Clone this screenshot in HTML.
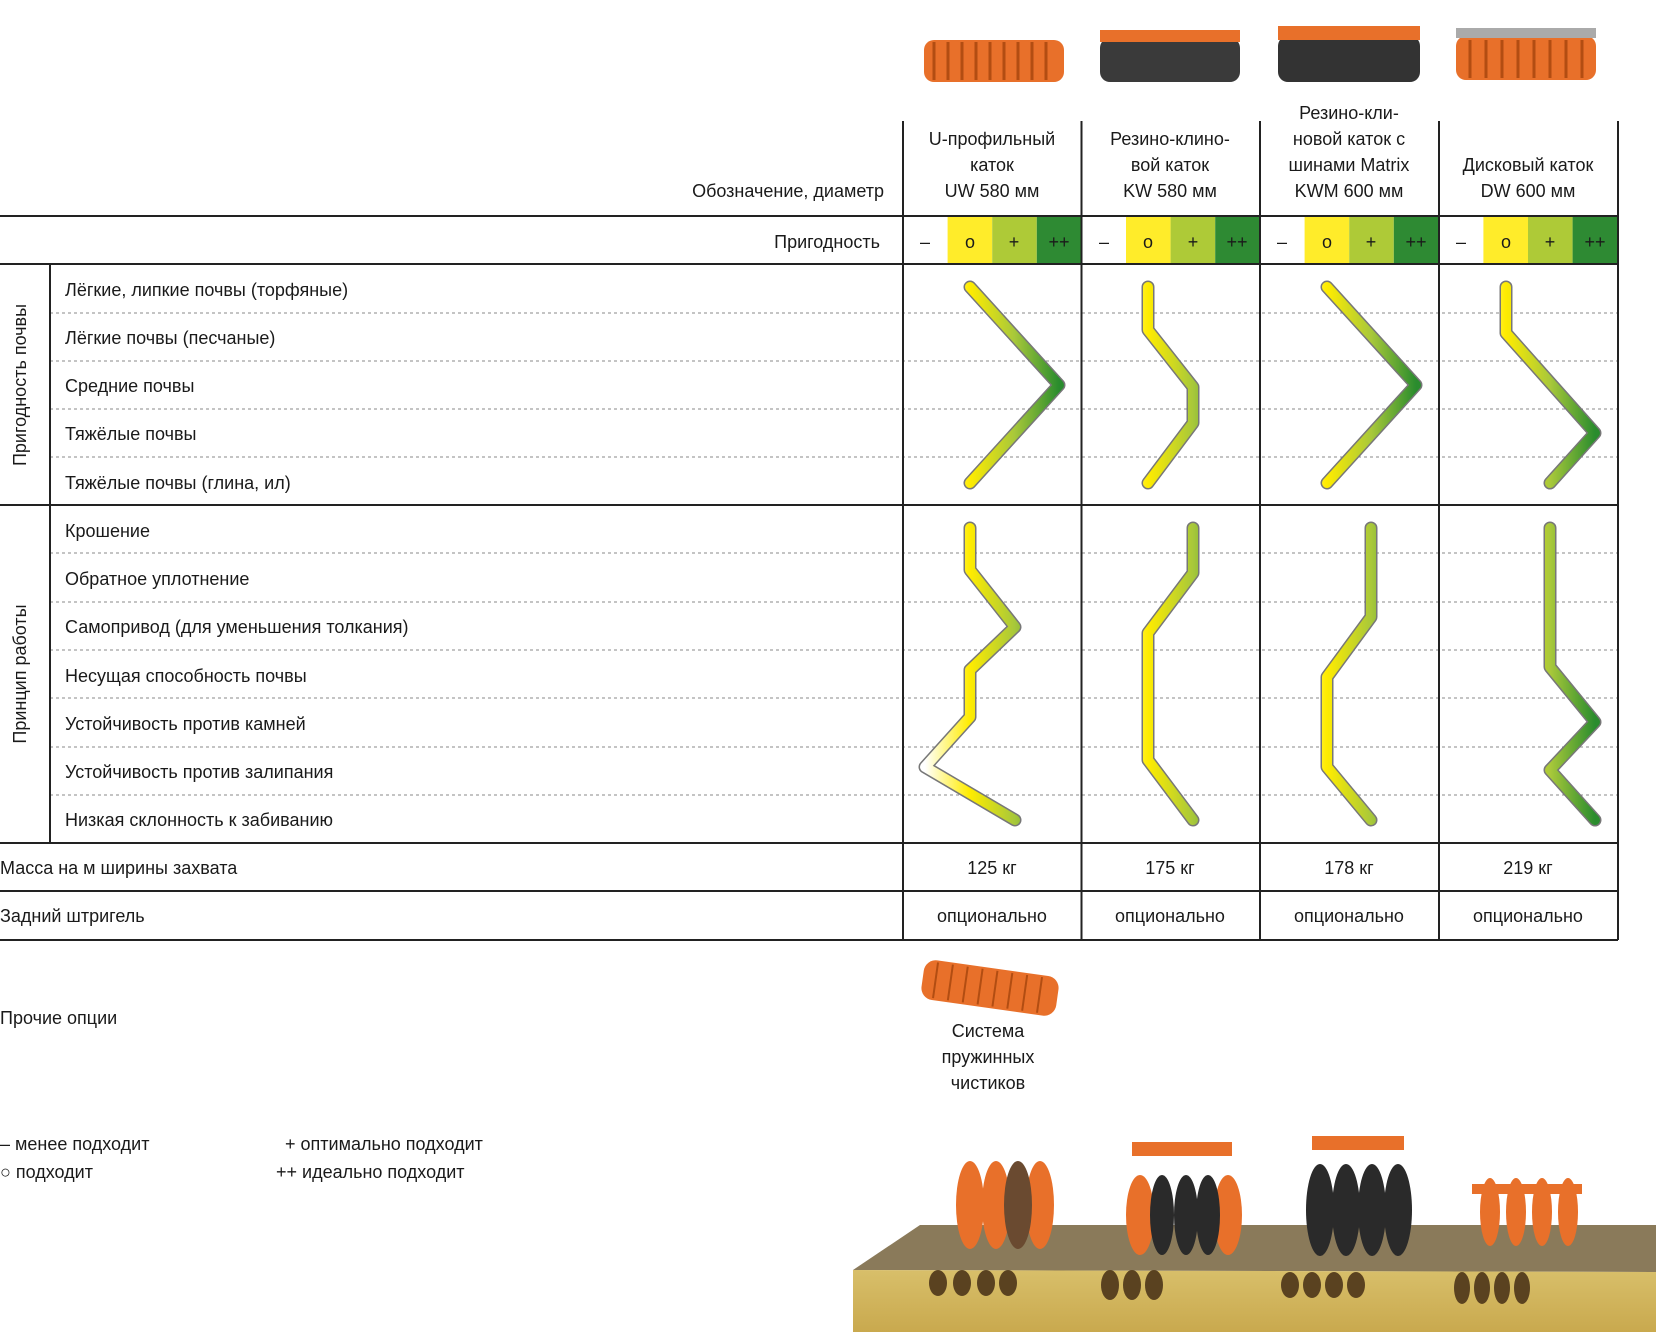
<!DOCTYPE html>
<html><head><meta charset="utf-8"><style>
html,body{margin:0;padding:0;background:#fff;}
svg{display:block;}
text{font-family:"Liberation Sans",sans-serif;font-size:18px;fill:#1a1a1a;}
</style></head><body>
<svg width="1656" height="1332" viewBox="0 0 1656 1332" xmlns="http://www.w3.org/2000/svg">
<defs>
<linearGradient id="g0" gradientUnits="userSpaceOnUse" x1="925" x2="1059" y1="0" y2="0"><stop offset="0" stop-color="#fff"/><stop offset="0.333" stop-color="#ffec00"/><stop offset="0.667" stop-color="#a8c83a"/><stop offset="1" stop-color="#2a8c2e"/></linearGradient>
<linearGradient id="g1" gradientUnits="userSpaceOnUse" x1="1103.5" x2="1237.5" y1="0" y2="0"><stop offset="0" stop-color="#fff"/><stop offset="0.333" stop-color="#ffec00"/><stop offset="0.667" stop-color="#a8c83a"/><stop offset="1" stop-color="#2a8c2e"/></linearGradient>
<linearGradient id="g2" gradientUnits="userSpaceOnUse" x1="1282" x2="1416" y1="0" y2="0"><stop offset="0" stop-color="#fff"/><stop offset="0.333" stop-color="#ffec00"/><stop offset="0.667" stop-color="#a8c83a"/><stop offset="1" stop-color="#2a8c2e"/></linearGradient>
<linearGradient id="g3" gradientUnits="userSpaceOnUse" x1="1461" x2="1595" y1="0" y2="0"><stop offset="0" stop-color="#fff"/><stop offset="0.333" stop-color="#ffec00"/><stop offset="0.667" stop-color="#a8c83a"/><stop offset="1" stop-color="#2a8c2e"/></linearGradient>
<linearGradient id="soil" x1="0" y1="0" x2="0" y2="1"><stop offset="0" stop-color="#d8bf6a"/><stop offset="1" stop-color="#c9a94e"/></linearGradient>
</defs>

<!-- top roller images -->
<g>
<rect x="924" y="40" width="140" height="42" rx="10" fill="#e8702a"/>
<rect x="1100" y="38" width="140" height="44" rx="10" fill="#3a3a3a"/>
<rect x="1100" y="30" width="140" height="12" fill="#e8702a"/>
<rect x="1278" y="36" width="142" height="46" rx="10" fill="#333"/>
<rect x="1278" y="26" width="142" height="14" fill="#e8702a"/>
<rect x="1456" y="36" width="140" height="44" rx="10" fill="#e8702a"/>
<rect x="1456" y="28" width="140" height="10" fill="#aaa"/>
<g stroke="#b24d12" stroke-width="3">
<line x1="934" y1="42" x2="934" y2="80"/><line x1="948" y1="42" x2="948" y2="80"/><line x1="962" y1="42" x2="962" y2="80"/><line x1="976" y1="42" x2="976" y2="80"/><line x1="990" y1="42" x2="990" y2="80"/><line x1="1004" y1="42" x2="1004" y2="80"/><line x1="1018" y1="42" x2="1018" y2="80"/><line x1="1032" y1="42" x2="1032" y2="80"/><line x1="1046" y1="42" x2="1046" y2="80"/>
<line x1="1470" y1="40" x2="1470" y2="78"/><line x1="1486" y1="40" x2="1486" y2="78"/><line x1="1502" y1="40" x2="1502" y2="78"/><line x1="1518" y1="40" x2="1518" y2="78"/><line x1="1534" y1="40" x2="1534" y2="78"/><line x1="1550" y1="40" x2="1550" y2="78"/><line x1="1566" y1="40" x2="1566" y2="78"/><line x1="1582" y1="40" x2="1582" y2="78"/>
</g>
</g>

<!-- header text -->
<g text-anchor="middle">
<text x="992" y="145">U-профильный</text><text x="992" y="171">каток</text><text x="992" y="197">UW 580 мм</text>
<text x="1170" y="145">Резино-клино-</text><text x="1170" y="171">вой каток</text><text x="1170" y="197">KW 580 мм</text>
<text x="1349" y="119">Резино-кли-</text><text x="1349" y="145">новой каток с</text><text x="1349" y="171">шинами Matrix</text><text x="1349" y="197">KWM 600 мм</text>
<text x="1528" y="171">Дисковый каток</text><text x="1528" y="197">DW 600 мм</text>
</g>
<text x="884" y="197" text-anchor="end">Обозначение, диаметр</text>

<!-- suitability cells -->
<g>
<rect x="947.6" y="216" width="44.6" height="48" fill="#ffec2a"/><rect x="992.2" y="216" width="44.6" height="48" fill="#aeca37"/><rect x="1036.8" y="216" width="44.6" height="48" fill="#2e8a33"/>
<rect x="1126" y="216" width="44.6" height="48" fill="#ffec2a"/><rect x="1170.6" y="216" width="44.6" height="48" fill="#aeca37"/><rect x="1215.2" y="216" width="44.6" height="48" fill="#2e8a33"/>
<rect x="1304.6" y="216" width="44.6" height="48" fill="#ffec2a"/><rect x="1349.2" y="216" width="44.6" height="48" fill="#aeca37"/><rect x="1393.8" y="216" width="44.6" height="48" fill="#2e8a33"/>
<rect x="1483.4" y="216" width="44.6" height="48" fill="#ffec2a"/><rect x="1528" y="216" width="44.6" height="48" fill="#aeca37"/><rect x="1572.6" y="216" width="45.4" height="48" fill="#2e8a33"/>
</g>
<g text-anchor="middle" style="font-size:19px">
<text x="925" y="248">–</text><text x="970" y="248">o</text><text x="1014" y="248">+</text><text x="1059" y="248">++</text>
<text x="1104" y="248">–</text><text x="1148" y="248">o</text><text x="1193" y="248">+</text><text x="1237" y="248">++</text>
<text x="1282" y="248">–</text><text x="1327" y="248">o</text><text x="1371" y="248">+</text><text x="1416" y="248">++</text>
<text x="1461" y="248">–</text><text x="1506" y="248">o</text><text x="1550" y="248">+</text><text x="1595" y="248">++</text>
</g>
<text x="880" y="248" text-anchor="end">Пригодность</text>

<!-- dashed lines -->
<g stroke="#888" stroke-width="1" stroke-dasharray="3,3">
<line x1="50" y1="313" x2="1618" y2="313"/><line x1="50" y1="361" x2="1618" y2="361"/><line x1="50" y1="409" x2="1618" y2="409"/><line x1="50" y1="457" x2="1618" y2="457"/>
<line x1="50" y1="553" x2="1618" y2="553"/><line x1="50" y1="602" x2="1618" y2="602"/><line x1="50" y1="650" x2="1618" y2="650"/><line x1="50" y1="698" x2="1618" y2="698"/><line x1="50" y1="747" x2="1618" y2="747"/><line x1="50" y1="795" x2="1618" y2="795"/>
</g>

<!-- solid lines -->
<g stroke="#222" stroke-width="2">
<line x1="0" y1="216" x2="1618" y2="216"/><line x1="0" y1="264" x2="1618" y2="264"/><line x1="0" y1="505" x2="1618" y2="505"/><line x1="0" y1="843" x2="1618" y2="843"/><line x1="0" y1="891" x2="1618" y2="891"/><line x1="0" y1="940" x2="1618" y2="940"/>
<line x1="903" y1="121" x2="903" y2="940"/><line x1="1081.5" y1="121" x2="1081.5" y2="940"/><line x1="1260" y1="121" x2="1260" y2="940"/><line x1="1439" y1="121" x2="1439" y2="940"/><line x1="1618" y1="121" x2="1618" y2="940"/>
<line x1="50" y1="264" x2="50" y2="843"/>
</g>

<!-- row labels -->
<g>
<text x="65" y="296">Лёгкие, липкие почвы (торфяные)</text>
<text x="65" y="344">Лёгкие почвы (песчаные)</text>
<text x="65" y="392">Средние почвы</text>
<text x="65" y="440">Тяжёлые почвы</text>
<text x="65" y="489">Тяжёлые почвы (глина, ил)</text>
<text x="65" y="537">Крошение</text>
<text x="65" y="585">Обратное уплотнение</text>
<text x="65" y="633">Самопривод (для уменьшения толкания)</text>
<text x="65" y="682">Несущая способность почвы</text>
<text x="65" y="730">Устойчивость против камней</text>
<text x="65" y="778">Устойчивость против залипания</text>
<text x="65" y="826">Низкая склонность к забиванию</text>
<text transform="translate(26,385) rotate(-90)" text-anchor="middle">Пригодность почвы</text>
<text transform="translate(26,674) rotate(-90)" text-anchor="middle">Принцип работы</text>
<text x="0" y="874">Масса на м ширины захвата</text>
<text x="0" y="922">Задний штригель</text>
</g>
<g text-anchor="middle">
<text x="992" y="874">125 кг</text><text x="1170" y="874">175 кг</text><text x="1349" y="874">178 кг</text><text x="1528" y="874">219 кг</text>
<text x="992" y="922">опционально</text><text x="1170" y="922">опционально</text><text x="1349" y="922">опционально</text><text x="1528" y="922">опционально</text>
</g>

<!-- curves -->
<g fill="none" stroke-linecap="round" stroke-linejoin="round">
<g stroke="#777" stroke-width="13">
<polyline points="970,287 1059,385 970,483"/>
<polyline points="1148,287 1148,330 1193,387 1193,423 1148,483"/>
<polyline points="1327,287 1416,385 1327,483"/>
<polyline points="1506,287 1506,333 1595,433 1550,483"/>
<polyline points="970,528 970,570 1015,627 970,670 970,717 925,767 1015,820"/>
<polyline points="1193,528 1193,573 1148,633 1148,760 1193,820"/>
<polyline points="1371,528 1371,617 1327,677 1327,767 1371,820"/>
<polyline points="1550,528 1550,667 1595,722 1550,770 1595,820"/>
</g>
<g stroke-width="10">
<polyline stroke="url(#g0)" points="970,287 1059,385 970,483"/>
<polyline stroke="url(#g1)" points="1148,287 1148,330 1193,387 1193,423 1148,483"/>
<polyline stroke="url(#g2)" points="1327,287 1416,385 1327,483"/>
<polyline stroke="url(#g3)" points="1506,287 1506,333 1595,433 1550,483"/>
<polyline stroke="url(#g0)" points="970,528 970,570 1015,627 970,670 970,717 925,767 1015,820"/>
<polyline stroke="url(#g1)" points="1193,528 1193,573 1148,633 1148,760 1193,820"/>
<polyline stroke="url(#g2)" points="1371,528 1371,617 1327,677 1327,767 1371,820"/>
<polyline stroke="url(#g3)" points="1550,528 1550,667 1595,722 1550,770 1595,820"/>
</g>
</g>

<!-- other options -->
<text x="0" y="1024">Прочие опции</text>
<rect x="922" y="968" width="136" height="40" rx="12" fill="#e8702a" transform="rotate(8 990 988)"/>
<g stroke="#b24d12" stroke-width="2" transform="rotate(8 990 988)"><line x1="935" y1="970" x2="935" y2="1006"/><line x1="950" y1="970" x2="950" y2="1006"/><line x1="965" y1="970" x2="965" y2="1006"/><line x1="980" y1="970" x2="980" y2="1006"/><line x1="995" y1="970" x2="995" y2="1006"/><line x1="1010" y1="970" x2="1010" y2="1006"/><line x1="1025" y1="970" x2="1025" y2="1006"/><line x1="1040" y1="970" x2="1040" y2="1006"/></g>
<g text-anchor="middle"><text x="988" y="1037">Система</text><text x="988" y="1063">пружинных</text><text x="988" y="1089">чистиков</text></g>

<!-- legend -->
<text x="0" y="1150">– менее подходит</text>
<text x="0" y="1178">○ подходит</text>
<text x="285" y="1150">+ оптимально подходит</text>
<text x="276" y="1178">++ идеально подходит</text>

<!-- bottom illustration -->
<polygon points="853,1270 920,1225 1656,1225 1656,1272" fill="#8a7a5a"/>
<polygon points="853,1270 1656,1272 1656,1332 853,1332" fill="url(#soil)"/>
<g fill="#5a4220">
<ellipse cx="938" cy="1283" rx="9" ry="13"/><ellipse cx="962" cy="1283" rx="9" ry="13"/><ellipse cx="986" cy="1283" rx="9" ry="13"/><ellipse cx="1008" cy="1283" rx="9" ry="13"/>
<ellipse cx="1110" cy="1285" rx="9" ry="15"/><ellipse cx="1132" cy="1285" rx="9" ry="15"/><ellipse cx="1154" cy="1285" rx="9" ry="15"/>
<ellipse cx="1290" cy="1285" rx="9" ry="13"/><ellipse cx="1312" cy="1285" rx="9" ry="13"/><ellipse cx="1334" cy="1285" rx="9" ry="13"/><ellipse cx="1356" cy="1285" rx="9" ry="13"/>
<ellipse cx="1462" cy="1288" rx="8" ry="16"/><ellipse cx="1482" cy="1288" rx="8" ry="16"/><ellipse cx="1502" cy="1288" rx="8" ry="16"/><ellipse cx="1522" cy="1288" rx="8" ry="16"/>
</g>
<g fill="#e8702a">
<ellipse cx="970" cy="1205" rx="14" ry="44"/><ellipse cx="996" cy="1205" rx="14" ry="44"/><ellipse cx="1040" cy="1205" rx="14" ry="44"/>
<rect x="1132" y="1142" width="100" height="14"/>
<ellipse cx="1140" cy="1215" rx="14" ry="40"/><ellipse cx="1228" cy="1215" rx="14" ry="40"/>
<rect x="1312" y="1136" width="92" height="14"/>
<rect x="1472" y="1184" width="110" height="10"/>
<ellipse cx="1490" cy="1212" rx="10" ry="34"/><ellipse cx="1516" cy="1212" rx="10" ry="34"/><ellipse cx="1542" cy="1212" rx="10" ry="34"/><ellipse cx="1568" cy="1212" rx="10" ry="34"/>
</g>
<ellipse cx="1018" cy="1205" rx="14" ry="44" fill="#6a4a30"/>
<g fill="#2a2a2a">
<ellipse cx="1162" cy="1215" rx="12" ry="40"/><ellipse cx="1186" cy="1215" rx="12" ry="40"/><ellipse cx="1208" cy="1215" rx="12" ry="40"/>
<ellipse cx="1320" cy="1210" rx="14" ry="46"/><ellipse cx="1346" cy="1210" rx="14" ry="46"/><ellipse cx="1372" cy="1210" rx="14" ry="46"/><ellipse cx="1398" cy="1210" rx="14" ry="46"/>
</g>
</svg>
</body></html>
